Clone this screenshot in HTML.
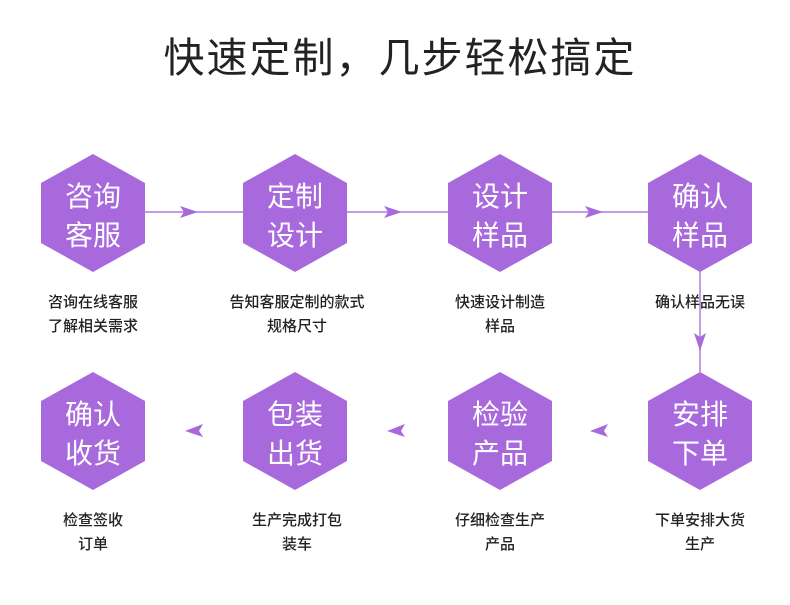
<!DOCTYPE html>
<html><head><meta charset="utf-8"><style>
body{margin:0;background:#fff}
svg{display:block}
text{font-family:"Liberation Sans","Noto Sans CJK SC",sans-serif}
</style></head><body>
<svg width="790" height="605" viewBox="0 0 790 605" xmlns="http://www.w3.org/2000/svg">
<defs>
<polygon id="hex" points="0,-59 52,-30 52,30 0,59 -52,30 -52,-30" fill="#a769dc"/>
</defs>
<text x="400" y="72" font-size="41" text-anchor="middle" fill="#222" letter-spacing="2">快速定制，几步轻松搞定</text>
<g stroke="#b07ae0" stroke-width="1.5">
<line x1="145" y1="212" x2="243" y2="212"/>
<line x1="347" y1="212" x2="448" y2="212"/>
<line x1="552" y1="212" x2="648" y2="212"/>
<line x1="700" y1="270" x2="700" y2="372"/>
</g>
<g fill="#a769dc">
<polygon points="180,206 198,212 180,218 184,212"/>
<polygon points="384,206 402,212 384,218 388,212"/>
<polygon points="585,206 603,212 585,218 589,212"/>
<polygon points="694,333 700,351 706,333 700,337"/>
<polygon points="203,424 185,431 203,437 199,431"/>
<polygon points="405,424 387,431 405,437 401,431"/>
<polygon points="608,424 590,431 608,437 604,431"/>
</g>
<g font-size="28" fill="#fff" text-anchor="middle">
<use href="#hex" x="93" y="213"/><text x="93" y="206">咨询</text><text x="93" y="245">客服</text>
<use href="#hex" x="295" y="213"/><text x="295" y="206">定制</text><text x="295" y="245">设计</text>
<use href="#hex" x="500" y="213"/><text x="500" y="206">设计</text><text x="500" y="245">样品</text>
<use href="#hex" x="700" y="213"/><text x="700" y="206">确认</text><text x="700" y="245">样品</text>
<use href="#hex" x="93" y="431"/><text x="93" y="424">确认</text><text x="93" y="463">收货</text>
<use href="#hex" x="295" y="431"/><text x="295" y="424">包装</text><text x="295" y="463">出货</text>
<use href="#hex" x="500" y="431"/><text x="500" y="424">检验</text><text x="500" y="463">产品</text>
<use href="#hex" x="700" y="431"/><text x="700" y="424">安排</text><text x="700" y="463">下单</text>
</g>
<g font-size="15" fill="#222" text-anchor="middle" font-weight="500">
<text x="93" y="307">咨询在线客服</text><text x="93" y="331">了解相关需求</text>
<text x="297" y="307">告知客服定制的款式</text><text x="297" y="331">规格尺寸</text>
<text x="500" y="307">快速设计制造</text><text x="500" y="331">样品</text>
<text x="700" y="307">确认样品无误</text>
<text x="93" y="525">检查签收</text><text x="93" y="549">订单</text>
<text x="297" y="525">生产完成打包</text><text x="297" y="549">装车</text>
<text x="500" y="525">仔细检查生产</text><text x="500" y="549">产品</text>
<text x="700" y="525">下单安排大货</text><text x="700" y="549">生产</text>
</g>
</svg>
</body></html>
